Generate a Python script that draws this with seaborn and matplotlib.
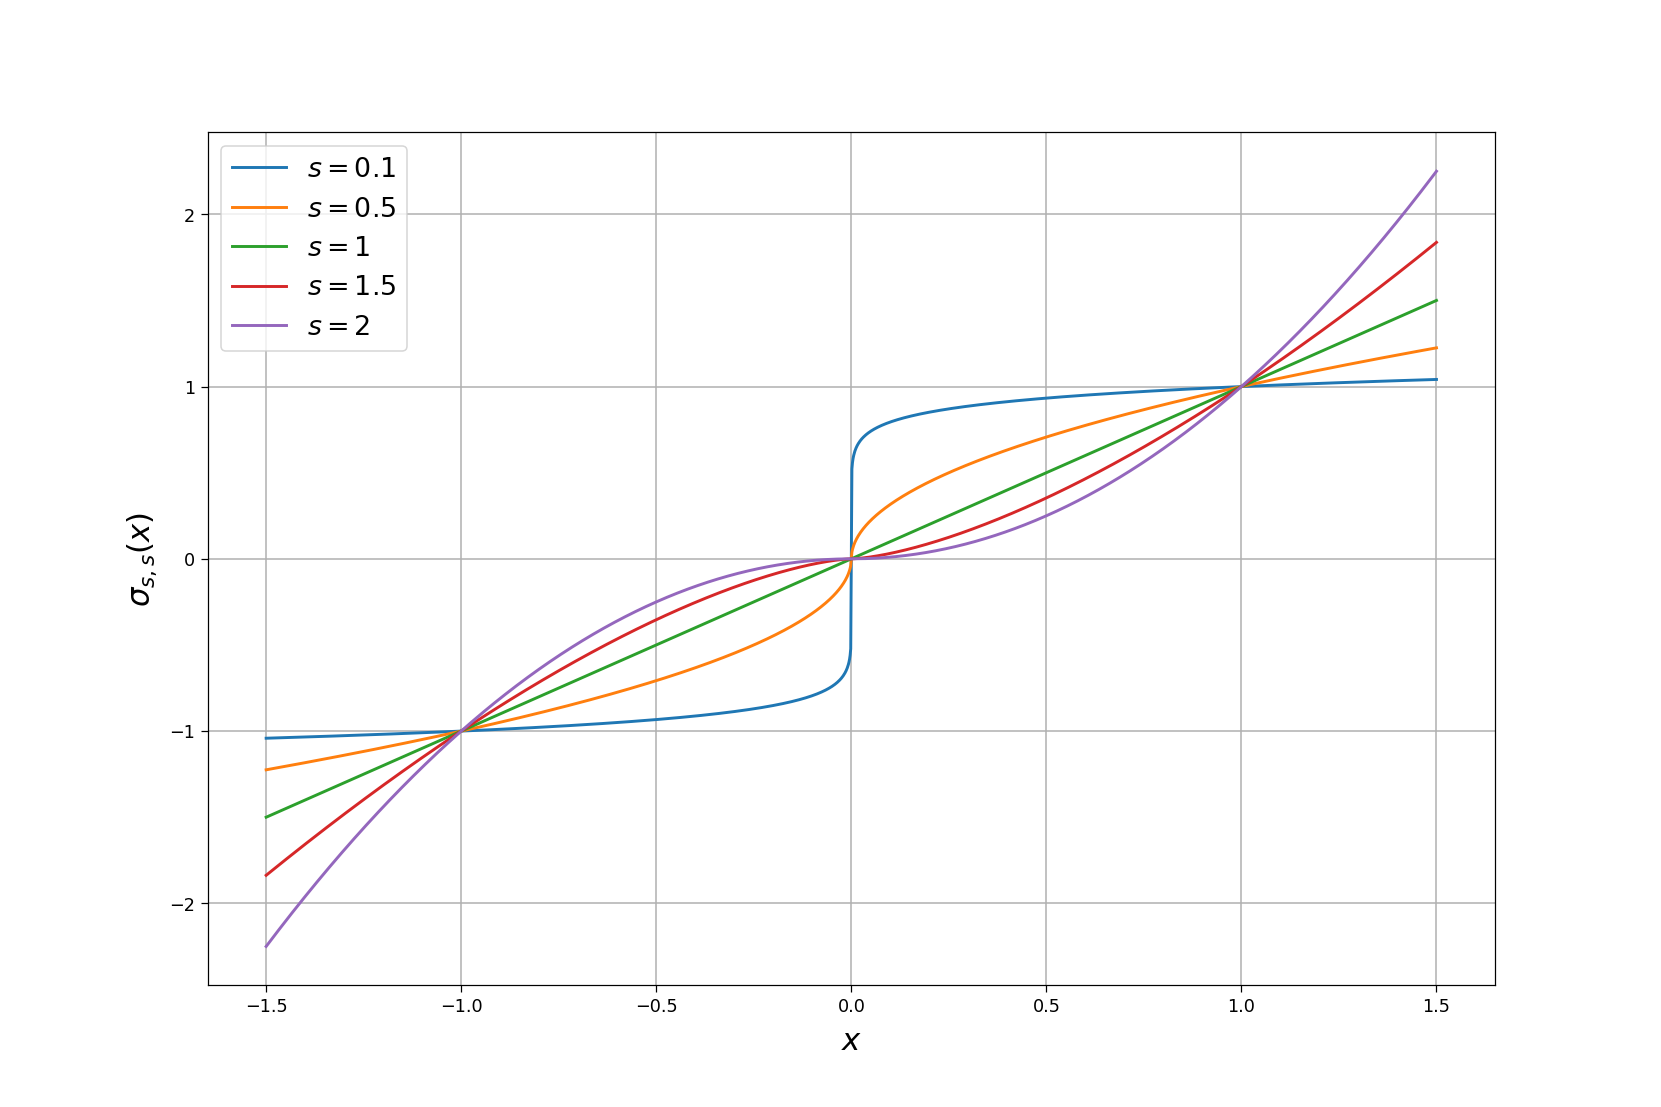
import numpy as np
import pandas as pd
import matplotlib
matplotlib.use("Agg")
import matplotlib.pyplot as plt
import seaborn as sns

# Exponents
s_values = [0.1, 0.5, 1, 1.5, 2]
s_labels = ["$s = 0.1$", "$s = 0.5$", "$s = 1$", "$s = 1.5$", "$s = 2$"]
x_min, x_max = -1.5, 1.5
x_ticks = [-1.5, -1.0, -0.5, 0.0, 0.5, 1.0, 1.5]
y_ticks = [-2, -1, 0, 1, 2]
colors = ["#1f77b4", "#ff7f0e", "#2ca02c", "#d62728", "#9467bd"]

x = np.linspace(x_min, x_max, 2001)
frames = []
for s, lab in zip(s_values, s_labels):
    y = np.sign(x) * np.abs(x) ** s
    frames.append(pd.DataFrame({"x": x, "y": y, "s": lab}))
df = pd.concat(frames, ignore_index=True)

fig, ax = plt.subplots(figsize=(15, 10), dpi=110.74)
sns.lineplot(data=df, x="x", y="y", hue="s", hue_order=s_labels,
             palette=colors, linewidth=1.9, ax=ax, sort=False, estimator=None)
ax.grid(True, color="#b0b0b0", linewidth=1.0)
ax.set_xticks(x_ticks)
ax.set_yticks(y_ticks)
ax.tick_params(labelsize=11.5, length=4.5)
ax.set_xlabel("$x$", fontsize=20, labelpad=7)
ax.set_ylabel(r"$\sigma_{s,s}(x)$", fontsize=20, labelpad=7)
leg = ax.legend(loc="upper left", fontsize=17.5, title=None)
fig.savefig("out.png", dpi=110.74)
